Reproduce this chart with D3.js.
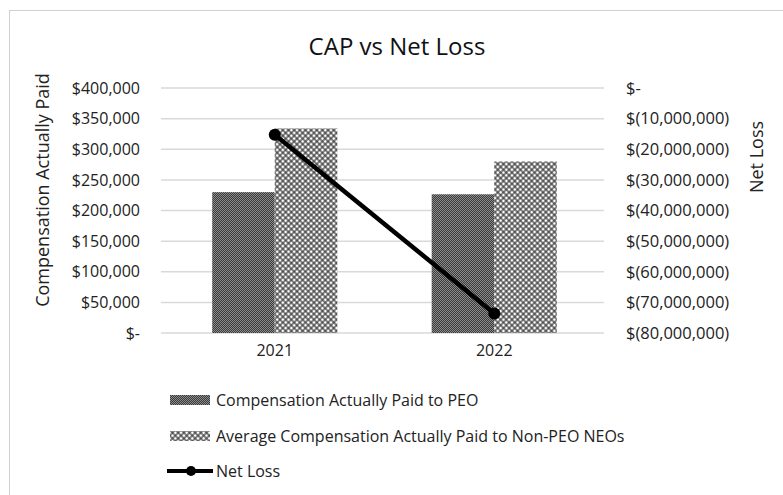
<!DOCTYPE html>
<html>
<head>
<meta charset="utf-8">
<script src="https://cdn.jsdelivr.net/npm/d3@7"></script>
<style>
  body { margin: 0; background: #fff; }
  text { font-family: "Open Sans", sans-serif; fill: #222; }
</style>
</head>
<body>
<svg id="chart" width="783" height="495"></svg>
<script>
// chart data
var years = ["2021", "2022"];
var seriesNames = ["Compensation Actually Paid to PEO", "Average Compensation Actually Paid to Non-PEO NEOs"];
var peoCap = [230000, 226500];
var nonPeoCap = [334000, 280000];
var netLoss = [-15300000, -73600000];
var leftTicks = [0, 50000, 100000, 150000, 200000, 250000, 300000, 350000, 400000];
var rightTicks = [0, -10000000, -20000000, -30000000, -40000000, -50000000, -60000000, -70000000, -80000000];

var svg = d3.select("#chart");

// patterns for the bars
var defs = svg.append("defs");
var p1 = defs.append("pattern").attr("id", "pat-peo")
    .attr("patternUnits", "userSpaceOnUse").attr("width", 2).attr("height", 2);
p1.append("rect").attr("width", 2).attr("height", 2).attr("fill", "#3a3a3a");
p1.append("rect").attr("x", 0).attr("y", 0).attr("width", 1).attr("height", 1).attr("fill", "#8c8c8c");
p1.append("rect").attr("x", 1).attr("y", 1).attr("width", 1).attr("height", 1).attr("fill", "#8c8c8c");

var p2 = defs.append("pattern").attr("id", "pat-non")
    .attr("patternUnits", "userSpaceOnUse").attr("width", 4).attr("height", 4)
    .attr("patternTransform", "rotate(45)");
p2.append("rect").attr("width", 4).attr("height", 4).attr("fill", "#333");
p2.append("rect").attr("x", 0.6).attr("y", 0.6).attr("width", 2.8).attr("height", 2.8).attr("fill", "#fff");

var fills = ["url(#pat-peo)", "url(#pat-non)"];

// outer border (only top/left visible in the reference)
svg.append("rect").attr("x", 9.5).attr("y", 10.5).attr("width", 800).attr("height", 600)
    .attr("fill", "none").attr("stroke", "#d0d0d0").attr("stroke-width", 1);

// scales
var x0 = d3.scaleBand().domain(years).range([165, 604]).paddingInner(0.43).paddingOuter(0.215);
var x1 = d3.scaleBand().domain(seriesNames).range([0, x0.bandwidth()]);
var yL = d3.scaleLinear().domain([0, 400000]).range([333, 88]);
var yR = d3.scaleLinear().domain([-80000000, 0]).range([333, 88]);

// gridlines
svg.append("g").selectAll("line").data(leftTicks).enter().append("line")
    .attr("x1", 161).attr("x2", 604)
    .attr("y1", function(d) { return yL(d); }).attr("y2", function(d) { return yL(d); })
    .attr("stroke", "#d9d9d9").attr("stroke-width", 1.5);

// title
svg.append("text").attr("x", 397).attr("y", 55).attr("text-anchor", "middle")
    .style("font-size", "24px").style("fill", "#111").text("CAP vs Net Loss");

// left axis
var fmtL = function(d) { return d === 0 ? "$-" : "$" + d3.format(",")(d); };
var gL = svg.append("g").attr("transform", "translate(148,0)")
    .call(d3.axisLeft(yL).tickValues(leftTicks).tickFormat(fmtL).tickSize(0).tickPadding(8));
gL.select(".domain").remove();
gL.selectAll("text").style("font-size", "16px").style("font-family", "Open Sans, sans-serif").attr("fill", "#222");

// right axis
var fmtR = function(d) { return d === 0 ? "$-" : "$(" + d3.format(",")(-d) + ")"; };
var gR = svg.append("g").attr("transform", "translate(618,0)")
    .call(d3.axisRight(yR).tickValues(rightTicks).tickFormat(fmtR).tickSize(0).tickPadding(8));
gR.select(".domain").remove();
gR.selectAll("text").style("font-size", "16.5px").style("font-family", "Open Sans, sans-serif").attr("fill", "#222");

// x axis labels
var gX = svg.append("g").attr("transform", "translate(0,345)")
    .call(d3.axisBottom(x0).tickSize(0).tickPadding(0));
gX.select(".domain").remove();
gX.selectAll("text").style("font-size", "16px").style("font-family", "Open Sans, sans-serif").attr("fill", "#222");

// axis titles
svg.append("text").attr("transform", "translate(49,190) rotate(-90)").attr("text-anchor", "middle")
    .style("font-size", "18px").text("Compensation Actually Paid");
svg.append("text").attr("transform", "translate(763,157) rotate(-90)").attr("text-anchor", "middle")
    .style("font-size", "18px").text("Net Loss");

// bars
var barData = [];
years.forEach(function(y, i) {
  barData.push({ year: y, s: seriesNames[0], v: peoCap[i], f: fills[0] });
  barData.push({ year: y, s: seriesNames[1], v: nonPeoCap[i], f: fills[1] });
});
svg.append("g").selectAll("rect").data(barData).enter().append("rect")
    .attr("x", function(d) { return x0(d.year) + x1(d.s); })
    .attr("width", x1.bandwidth())
    .attr("y", function(d) { return yL(d.v); })
    .attr("height", function(d) { return yL(0) - yL(d.v); })
    .attr("fill", function(d) { return d.f; });

// net loss line
var lineData = years.map(function(y, i) { return { x: x0(y) + x0.bandwidth() / 2, y: yR(netLoss[i]) }; });
svg.append("path").datum(lineData)
    .attr("d", d3.line().x(function(d) { return d.x; }).y(function(d) { return d.y; }))
    .attr("fill", "none").attr("stroke", "#000").attr("stroke-width", 4.5);
svg.append("g").selectAll("circle").data(lineData).enter().append("circle")
    .attr("cx", function(d) { return d.x; }).attr("cy", function(d) { return d.y; })
    .attr("r", 6).attr("fill", "#000");

// legend
var legend = svg.append("g");
var rows = [400, 436, 471];
seriesNames.forEach(function(name, i) {
  legend.append("rect").attr("x", 170).attr("y", rows[i] - 5).attr("width", 40).attr("height", 10)
      .attr("fill", fills[i]);
  legend.append("text").attr("x", 216).attr("y", rows[i]).attr("dy", "0.35em")
      .style("font-size", "16px").text(name);
});
legend.append("line").attr("x1", 167).attr("x2", 213).attr("y1", rows[2]).attr("y2", rows[2])
    .attr("stroke", "#000").attr("stroke-width", 4);
legend.append("circle").attr("cx", 191).attr("cy", rows[2]).attr("r", 5).attr("fill", "#000");
legend.append("text").attr("x", 216).attr("y", rows[2]).attr("dy", "0.35em")
    .style("font-size", "16px").text("Net Loss");
</script>
</body>
</html>
